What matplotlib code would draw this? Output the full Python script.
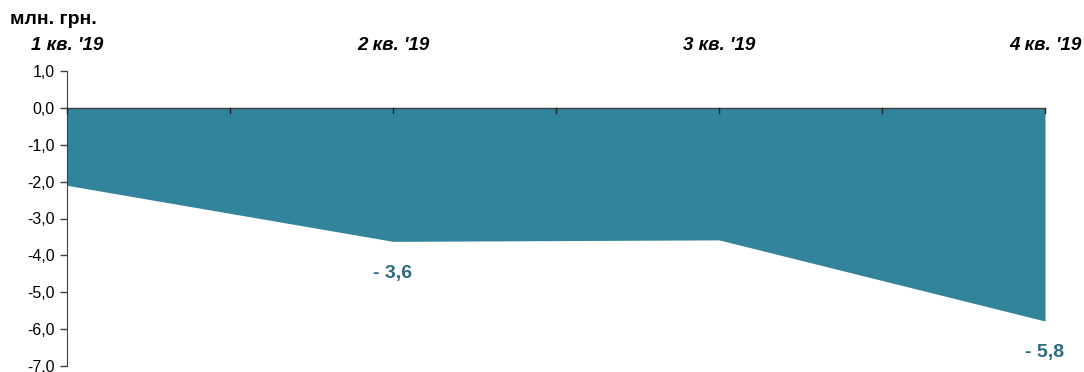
import numpy as np
import matplotlib.pyplot as plt

plt.rcParams['font.family'] = ['Liberation Sans', 'DejaVu Sans']

quarters = ["1 кв. '19", "2 кв. '19", "3 кв. '19", "4 кв. '19"]
values = [-2.1, -3.62, -3.58, -5.78]
labels = {1: "- 3,6", 3: "- 5,8"}

fill_color = '#31849b'
label_color = '#2b6b7f'

fig = plt.figure(figsize=(10.84, 3.72), dpi=100)
ax = fig.add_axes([67/1084, 1 - 366/372, (1045 - 67)/1084, (366 - 71)/372])

x = np.arange(len(values))
ax.fill_between(x, 0, values, color=fill_color, linewidth=0)
ax.axhline(0, color='#404040', linewidth=1.0, zorder=3)

ax.set_xlim(0, len(values) - 1)
ax.set_ylim(-7, 1)
ax.set_yticks(np.arange(-7, 1.01, 1.0))
ax.set_yticklabels([f"{v:.1f}".replace('.', ',') for v in np.arange(-7, 1.01, 1.0)])
ax.tick_params(axis='y', length=5, width=1, color='#404040', labelsize=11.5, pad=4)
ax.set_xticks([])

# small ticks on the zero line
for t in np.arange(0, len(values) - 0.99, 0.5):
    ax.plot([t, t], [0, -0.13], color='#202020', linewidth=1, zorder=4, clip_on=False)

for s in ['top', 'right', 'bottom']:
    ax.spines[s].set_visible(False)
ax.spines['left'].set_color('#404040')

# category labels above the chart
for i, q in enumerate(quarters):
    ax.annotate(q, xy=(i, 1), xycoords=('data', 'data'), xytext=(0, 12), textcoords='offset points',
                ha='center', va='bottom', fontsize=13.5, fontweight='bold', fontstyle='italic',
                annotation_clip=False)

for i, txt in labels.items():
    ax.annotate(txt, xy=(i, values[i]), xytext=(0, -23), textcoords='offset points',
                ha='center', va='center', fontsize=14, fontweight='bold', color=label_color,
                annotation_clip=False)

fig.text(10/1084, 1 - 19/372, 'млн. грн.', fontsize=14, fontweight='bold', va='center', ha='left')

fig.savefig('out.png', dpi=100)
